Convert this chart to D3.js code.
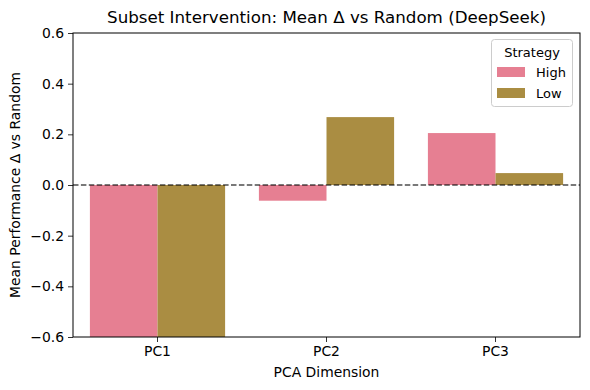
<!DOCTYPE html>
<html>
<head>
<meta charset="utf-8">
<script src="https://cdn.jsdelivr.net/npm/d3@7"></script>
<style>
  body { margin: 0; background: #fff; }
  text { font-family: "DejaVu Sans", sans-serif; fill: #000; }
</style>
</head>
<body>
<script>
// data
var dims = ["PC1", "PC2", "PC3"];
var strategies = ["High", "Low"];
var highVals = [-0.74, -0.062, 0.205];
var lowVals = [-0.68, 0.268, 0.047];
var yTicks = [-0.6, -0.4, -0.2, 0.0, 0.2, 0.4, 0.6];
var colors = ["#e67f92", "#aa8d42"];

var width = 590, height = 390;
var plotL = 73, plotR = 580, plotT = 33, plotB = 337;

var svg = d3.select("body").append("svg")
    .attr("width", width)
    .attr("height", height);

svg.append("defs").append("clipPath").attr("id", "plot")
    .append("rect")
    .attr("x", plotL).attr("y", plotT)
    .attr("width", plotR - plotL).attr("height", plotB - plotT);

var x = d3.scaleBand().domain(dims).range([plotL, plotR]).paddingInner(0.2).paddingOuter(0.1);
var xs = d3.scaleBand().domain(strategies).range([0, x.bandwidth()]);
var y = d3.scaleLinear().domain([-0.6, 0.6]).range([plotB, plotT]);

var rows = [];
dims.forEach(function(d, i) {
    rows.push({dim: d, s: "High", v: highVals[i]});
    rows.push({dim: d, s: "Low", v: lowVals[i]});
});

svg.append("g").attr("clip-path", "url(#plot)")
    .selectAll("rect").data(rows)
    .enter().append("rect")
    .attr("x", function(d) { return x(d.dim) + xs(d.s); })
    .attr("width", xs.bandwidth())
    .attr("y", function(d) { return y(Math.max(0, d.v)); })
    .attr("height", function(d) { return Math.abs(y(d.v) - y(0)); })
    .attr("fill", function(d) { return colors[strategies.indexOf(d.s)]; });

// zero line
svg.append("line")
    .attr("x1", plotL).attr("x2", plotR)
    .attr("y1", y(0)).attr("y2", y(0))
    .style("stroke", "#000")
    .style("stroke-opacity", 0.7)
    .style("stroke-width", 1.5)
    .style("stroke-dasharray", "5.5,2.4");

// axes
var yAxis = svg.append("g")
    .attr("transform", "translate(" + plotL + ",0)")
    .call(d3.axisLeft(y).tickValues(yTicks).tickSize(5).tickPadding(4)
        .tickFormat(function(d) { return d3.format(".1f")(d).replace("-", "\u2212"); }));
var xAxis = svg.append("g")
    .attr("transform", "translate(0," + plotB + ")")
    .call(d3.axisBottom(x).tickSize(5).tickPadding(4));
[xAxis, yAxis].forEach(function(a) {
    a.select(".domain").remove();
    a.selectAll("line").style("stroke", "#000").style("stroke-width", 0.8);
    a.selectAll("text").style("font-size", "13.9px").style("font-family", "DejaVu Sans");
});

// frame
svg.append("rect")
    .attr("x", plotL).attr("y", plotT)
    .attr("width", plotR - plotL).attr("height", plotB - plotT)
    .attr("fill", "none")
    .style("stroke", "#000")
    .style("stroke-width", 1);

// titles
svg.append("text")
    .attr("x", (plotL + plotR) / 2).attr("y", 23)
    .attr("text-anchor", "middle")
    .style("font-size", "16.7px")
    .text("Subset Intervention: Mean \u0394 vs Random (DeepSeek)");

svg.append("text")
    .attr("x", (plotL + plotR) / 2).attr("y", 377)
    .attr("text-anchor", "middle")
    .style("font-size", "13.9px")
    .text("PCA Dimension");

svg.append("text")
    .attr("transform", "translate(20," + (plotT + plotB) / 2 + ") rotate(-90)")
    .attr("text-anchor", "middle")
    .style("font-size", "13.9px")
    .text("Mean Performance \u0394 vs Random");

// legend
var lg = svg.append("g");
lg.append("rect")
    .attr("x", 491.5).attr("y", 39.5)
    .attr("width", 81).attr("height", 67)
    .attr("rx", 3)
    .attr("fill", "#fff").attr("fill-opacity", 0.8)
    .style("stroke", "#ccc");
lg.append("text")
    .attr("x", 532).attr("y", 57)
    .attr("text-anchor", "middle")
    .style("font-size", "13px")
    .text("Strategy");
strategies.forEach(function(s, i) {
    lg.append("rect")
        .attr("x", 497).attr("y", 67 + i * 21)
        .attr("width", 28).attr("height", 10)
        .attr("fill", colors[i]);
    lg.append("text")
        .attr("x", 536).attr("y", 77 + i * 21)
        .style("font-size", "13px")
        .text(s);
});
</script>
</body>
</html>
